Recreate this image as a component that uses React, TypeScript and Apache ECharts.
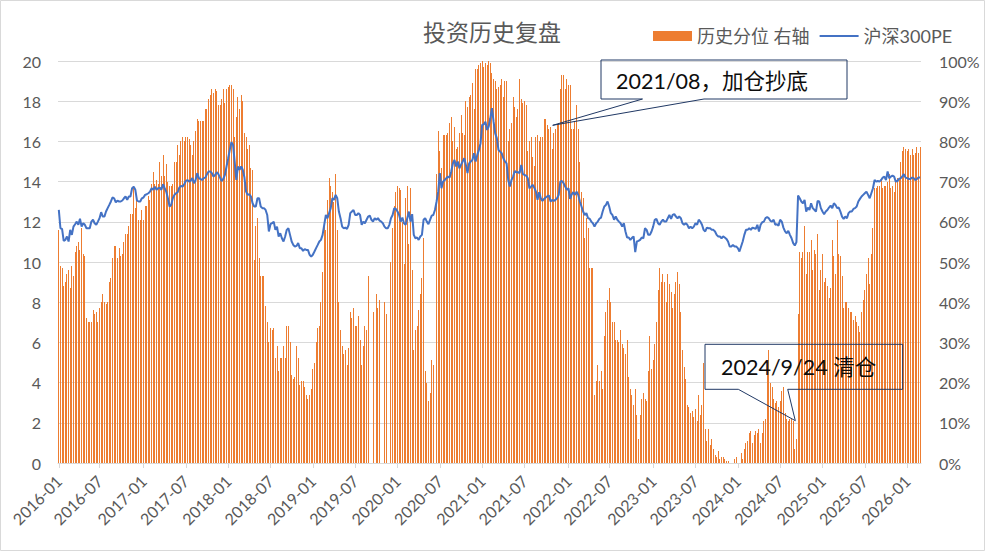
import React, { useEffect, useRef } from "react";
import * as echarts from "echarts";

// ---------- data (weekly, first week 2016-01-08) ----------
const START_DATE = "2016-01-08";
const TICK_LABELS = [
  "2016-01", "2016-07", "2017-01", "2017-07", "2018-01", "2018-07", "2019-01",
  "2019-07", "2020-01", "2020-07", "2021-01", "2021-07", "2022-01", "2022-07",
  "2023-01", "2023-07", "2024-01", "2024-07", "2025-01", "2025-07", "2026-01",
];

// 历史分位 (%), right axis
const BAR_2016_2017 = [
  58, 49, 48.5, 44, 45, 47, 48, 43.5, 49, 46.5,
  52.5, 54, 55, 53, 58.5, 52, 51.5, 36, 35, 35,
  35, 38, 37, 37.5, 35, 38.5, 40, 42, 40, 39.5,
  40, 45, 46, 51, 54, 54, 51, 53.5, 51.5, 52,
  55, 57, 57, 59, 62, 62, 69, 63.5, 66, 60.5,
  60.5, 63, 60.5, 64, 64, 66.5, 65.5, 69.5, 72.5, 69.5,
  70.5, 69.5, 75, 71.5, 76.5, 71.5, 74.5, 70, 69, 69,
  69.5, 75, 75, 79, 76.5, 80, 81, 80, 81, 81,
  80.5, 79, 76.5, 80, 82.5, 85.5, 85, 85, 85, 85,
  88, 88, 90.5, 91.5, 93, 92, 93, 92.5, 89, 89,
  90.5, 93, 89.5, 93, 93.5,
];
const BAR_2018_2019 = [
  94, 94, 93, 81, 86, 91, 88, 91.5, 90, 82,
  81, 78, 79, 73.5, 73, 50.5, 59, 61, 51, 46.5,
  46.5, 46.5, 39, 35, 30, 33.5, 33, 33.5, 26, 29,
  23, 26, 26, 29, 26, 34, 34, 30, 22, 21,
  21.5, 29, 26, 19.5, 20.5, 20.5, 19, 17, 16, 17,
  18.5, 23.5, 25, 30, 33.5, 34, 40, 47.5, 59, 58,
  65.5, 71, 69, 67.5, 65, 72, 58, 40,
];
const BAR_2019_2020 = [
  33, 29, 27, 28, 24.5, 28.5, 37.5, 36, 38.5, 34,
  34, 36.5, 30.5, 24.5, 29, 34, 33, 46.5, 0, 0,
  37.5, 0, 42, 38.5, 40.5, 0, 0, 40, 37, 0,
  0, 50, 58.5, 64, 67.5, 69, 68.5, 68, 60, 49.5,
  66, 69, 54.5, 68.5, 48, 28, 33, 34, 38, 42,
  46, 56, 23, 20, 15.5, 17.5, 25.5, 24.5, 0,
];
const BAR_2020_2021 = [
  72, 82.5, 77.5, 73.5, 81.5, 81.5, 81.5, 82, 84.5, 86,
  80, 83.5, 78, 78.5, 82, 86.5, 82, 81.5, 90, 88.5,
  91, 91.5, 94.5, 88, 98, 98, 99, 99.5, 100, 98.5,
  99.5, 99, 100, 99.5, 97, 95.5, 95, 93, 93.5, 94,
  95.5, 91, 95, 95, 80, 83, 84.5, 91, 88.5, 86,
  88, 95.5, 90.5, 89.5, 90, 89, 77.5, 80, 81, 76,
  74, 81, 81.5, 80, 81, 81, 85.5, 85.5, 84, 83,
  83.5, 78, 82, 83, 84, 84.5, 93, 96.5, 96.5, 93,
  95.5,
];
const BAR_2022A = [94, 94, 83, 83, 85, 89, 83, 75, 67.5, 66, 56, 61, 58.5, 48.5, 48.5, 48.5];
const BAR_2022_2023 = [
  17, 20.5, 24.5, 20.5, 23, 18.5, 31.5, 37.5, 40.5, 43.5,
  40, 35, 35, 30.5, 30.5, 30, 33, 29.5, 28.5, 27,
  30.5, 21.5, 18.5, 17, 14.5, 18.5, 12, 6, 12, 16,
  17.5, 16, 15.5, 23, 31.5, 23.5, 25.5, 29.5, 35, 43,
  48.5, 45, 47, 45, 40, 47, 44.5, 42.5, 38.5, 42,
  45, 47.5, 44.5, 37.5, 28, 24, 21, 14.5, 14, 12.5,
  13, 11.5, 13.5, 10.5, 17, 12, 14.5, 25, 8.5, 5.5,
  8.5, 4.5, 6, 3.5, 2, 1.5, 3, 1, 1.5, 1.5,
  1, 0.5, 0.5, 0, 0, 0, 1, 1.5, 0, 0,
  2.5, 1, 3.5, 5,
];
const BAR_2024_2026 = [
  5.5, 7.5, 8, 5, 7, 8, 7.5, 8.5, 5, 7.5,
  10.5, 11, 22, 28, 20, 19, 16, 15, 15.5, 14,
  15.5, 18, 19, 12.5, 11, 10.5, 11, 11, 10.5, 3.5,
  6, 37, 52.5, 51, 52.5, 59, 47, 52.5, 52.5, 55.5,
  48, 53, 52, 57, 43, 48, 52, 45, 46, 44,
  41, 43.5, 55.5, 51.5, 47, 60.5, 52, 51.5, 46.5, 38.5,
  40, 40, 38.5, 37.5, 37.5, 35.5, 36.5, 35, 34, 32.5,
  37.5, 40.5, 43, 47, 51, 44.5, 52, 58.5, 68.5, 68.5,
  69, 69, 70.5, 68.5, 69, 69, 70, 72, 68.5, 69,
  67.5, 70, 71, 70.5, 75, 77.5, 78.5, 78, 77.5, 78,
  76.5, 78, 76.5, 77, 78.5, 77, 78.5,
];

// 沪深300PE, left axis
const PE_2016_2017 = [
  12.59, 11.68, 11.65, 11.05, 11.1, 11.27, 11.02, 11.6, 11.35, 11.76,
  11.88, 12.01, 11.85, 12.15, 11.76, 11.93, 11.85, 11.68, 11.68, 11.68,
  12.01, 12.1, 11.93, 11.85, 12.01, 12.18, 12.48, 12.26, 12.26, 12.51,
  12.68, 12.84, 13.01, 13.21, 13.17, 12.97, 13.05, 13.01, 13.01, 13.06,
  13.17, 13.26, 13.09, 13.26, 13.26, 13.67, 13.74, 13.59, 13.06, 13.01,
  13.01, 13.17, 13.21, 13.34, 13.37, 13.42, 13.5, 13.67, 13.59, 13.75,
  13.59, 13.67, 13.7, 13.59, 13.87, 13.67, 13.5, 13.17, 12.76, 12.84,
  13.17, 13.34, 13.42, 13.47, 13.7, 13.79, 13.75, 13.87, 14.03, 14.08,
  14.0, 14.05, 14.17, 13.92, 14.08, 14.42, 14.17, 14.13, 14.08, 14.17,
  14.2, 14.37, 14.5, 14.5, 14.42, 14.25, 14.33, 14.47, 14.37, 14.2,
  14.03, 14.13, 14.33, 14.75, 15.16, 15.58,
];
const PE_2018_2019 = [
  15.96, 15.82, 15.0, 14.08, 14.75, 14.58, 14.75, 14.58, 14.2, 13.5,
  13.34, 13.37, 13.26, 12.92, 12.76, 12.76, 13.17, 13.17, 12.76, 12.68,
  12.68, 12.59, 12.34, 11.52, 11.88, 11.93, 12.01, 11.6, 11.76, 11.27,
  11.43, 11.18, 11.02, 11.27, 11.6, 11.68, 11.35, 11.02, 10.85, 10.77,
  10.8, 10.94, 10.69, 10.69, 10.55, 10.64, 10.6, 10.6, 10.36, 10.27,
  10.36, 10.52, 10.69, 10.85, 11.02, 11.1, 11.35, 11.85, 12.34, 12.18,
  12.43, 12.68, 13.17, 13.09, 13.34, 13.17, 12.51, 12.18, 11.76, 11.68,
  11.71, 11.65, 11.85, 12.43, 12.51, 12.59, 12.34, 12.34, 12.43, 12.34,
  11.85, 12.01, 11.93, 12.1, 12.26, 12.31, 12.1, 12.01, 12.18, 12.1,
  12.18, 12.06, 12.01, 11.93, 11.76, 11.68, 11.68, 11.85, 12.18, 12.34,
  12.68, 12.64, 12.51, 12.34, 12.01,
];
const PE_2020_2021 = [
  12.21, 11.93, 11.85, 12.18, 12.51, 12.01, 12.38, 11.35, 11.18, 11.22,
  11.1, 11.27, 11.35, 12.1, 12.18, 12.01, 11.88, 12.1, 12.31, 12.34,
  12.59, 13.01, 13.5, 14.42, 13.67, 14.0, 14.08, 14.17, 14.25, 14.2,
  14.5, 14.9, 15.08, 14.75, 15.0, 14.66, 14.83, 15.0, 15.16, 14.83,
  14.42, 14.91, 15.0, 15.08, 15.41, 15.0, 15.33, 15.58, 15.91, 16.82,
  16.85, 16.98, 16.57, 16.74, 17.15, 17.65, 16.98, 16.4, 16.16, 15.58,
  15.49, 15.41, 15.16, 15.0, 14.91, 14.08, 13.75, 14.08, 14.25, 14.53,
  14.47, 14.47, 14.42, 14.83, 14.37, 14.33, 14.3, 14.17, 13.67, 13.75,
  13.84, 13.7, 13.5, 13.09, 13.47, 13.17, 13.04, 13.14, 13.21, 13.26,
  13.31, 13.01, 13.09, 13.04, 13.09, 13.17, 13.34, 14.0, 14.03, 13.92,
  13.75, 13.59, 13.67, 13.14, 13.37, 13.47,
];
const PE_2022_2023 = [
  13.34, 13.5, 13.34, 13.01, 12.76, 12.51, 12.34, 12.43, 12.18, 12.15,
  12.01, 11.93, 11.76, 11.93, 12.01, 12.15, 12.21, 12.51, 12.76, 12.84,
  13.01, 12.76, 12.43, 12.34, 12.1, 12.26, 12.1, 12.01, 11.93, 11.76,
  11.93, 11.52, 11.22, 11.22, 11.1, 11.2, 11.27, 10.49, 11.02, 11.05,
  11.1, 11.22, 11.18, 11.68, 11.6, 11.35, 11.35, 11.52, 11.76, 12.1,
  12.15, 11.93, 11.85, 12.01, 12.1, 12.01, 12.01, 12.18, 12.34, 12.15,
  12.34, 12.38, 12.26, 12.18, 12.26, 12.18, 11.93, 11.85, 11.93, 11.85,
  11.68, 11.76, 11.68, 11.76, 11.93, 11.85, 12.1, 12.01, 11.85, 11.6,
  11.52, 11.71, 11.68, 11.68, 11.6, 11.6, 11.52, 11.35, 11.27, 11.27,
  11.18, 11.27, 11.22, 11.15, 11.02, 10.77, 10.77, 10.85, 10.77, 10.77,
  10.69, 10.52, 10.77, 11.02, 11.35, 11.6,
];
const PE_2024_2026 = [
  11.6, 11.68, 11.6, 11.71, 11.68, 11.65, 11.85, 11.52, 11.85, 11.98,
  12.01, 12.18, 12.23, 12.18, 12.05, 12.01, 12.1, 11.85, 11.88, 11.81,
  12.1, 12.01, 11.71, 11.52, 11.43, 11.55, 11.35, 11.18, 10.94, 10.82,
  10.99, 13.31, 13.17, 13.01, 12.92, 13.09, 12.51, 12.71, 12.59, 12.92,
  12.68, 12.6, 12.51, 13.04, 13.01, 12.68, 12.51, 12.38, 12.51, 12.59,
  12.71, 12.81, 12.68, 12.92, 12.84, 12.68, 12.71, 12.51, 12.26, 12.15,
  12.26, 12.18, 12.43, 12.51, 12.51, 12.64, 12.68, 12.76, 13.01, 13.14,
  13.26, 13.34, 13.42, 13.5, 13.34, 13.17, 13.42, 13.67, 14.08, 14.0,
  14.03, 14.0, 14.08, 14.2, 14.25, 14.08, 14.5, 14.17, 14.25, 14.3,
  14.25, 14.0, 14.03, 14.13, 14.17, 14.25, 14.37, 14.2, 14.17, 14.13,
  14.13, 14.2, 14.17, 14.08, 14.13, 14.2, 14.2,
];

const BAR_PCT = [
  ...BAR_2016_2017, ...BAR_2018_2019, ...BAR_2019_2020, ...BAR_2020_2021,
  ...BAR_2022A, ...BAR_2022_2023, ...BAR_2024_2026,
];
const PE = [...PE_2016_2017, ...PE_2018_2019, ...PE_2020_2021, ...PE_2022_2023, ...PE_2024_2026];

const FONT = 'Lato, "Noto Sans CJK SC", sans-serif';
const GREY = "#595959";
const NAVY = "#203864";
const ORANGE = "#ED7D31";
const BLUE = "#4472C4";

function pad(n: number) {
  return n < 10 ? "0" + n : String(n);
}

const CSS = `
#pe-chart path[fill="${ORANGE}"], #pe-chart path[fill="${ORANGE.toLowerCase()}"], #pe-chart path[fill="rgb(237,125,49)"] {
  shape-rendering: crispEdges;
}
`;

export default function App() {
  const ref = useRef<HTMLDivElement>(null);

  useEffect(() => {
    if (!ref.current) return;
    const chart = echarts.init(ref.current, undefined, { renderer: "svg" });

    const n = Math.max(BAR_PCT.length, PE.length);
    const t0 = Date.parse(START_DATE + "T00:00:00Z");
    const categories: string[] = [];
    for (let i = 0; i < n; i++) {
      const d = new Date(t0 + i * 7 * 86400000);
      categories.push(`${d.getUTCFullYear()}-${pad(d.getUTCMonth() + 1)}-${pad(d.getUTCDate())}`);
    }
    const tickSet = new Set<number>();
    TICK_LABELS.forEach((lab) => {
      const idx = categories.findIndex((c) => c.startsWith(lab));
      if (idx >= 0) tickSet.add(idx);
    });
    const showTick = (i: number) => tickSet.has(i);

    chart.setOption({
      animation: false,
      textStyle: { fontFamily: FONT },
      title: {
        text: "投资历史复盘",
        left: 418,
        top: 15,
        textStyle: { fontSize: 23, fontWeight: "normal", color: GREY, fontFamily: FONT },
      },
      legend: {
        left: 648,
        top: 22,
        itemWidth: 39,
        itemHeight: 10,
        itemGap: 9,
        textStyle: { fontSize: 18, color: GREY, fontFamily: FONT },
        data: [
          { name: "历史分位 右轴", icon: "rect" },
          { name: "沪深300PE", itemStyle: { color: "rgba(0,0,0,0)", borderWidth: 0, opacity: 0 } },
        ],
      },
      grid: { left: 58, right: 64, top: 61, bottom: 88 },
      xAxis: {
        type: "category",
        data: categories,
        boundaryGap: true,
        axisLine: { lineStyle: { color: "#d9d9d9", width: 1 } },
        axisTick: {
          show: true,
          alignWithLabel: true,
          interval: showTick,
          length: 5,
          lineStyle: { color: "#d9d9d9" },
        },
        axisLabel: {
          interval: showTick,
          rotate: 45,
          margin: 15,
          fontSize: 16,
          color: GREY,
          fontFamily: FONT,
          formatter: (v: string) => v.slice(0, 7),
        },
        splitLine: { show: false },
      },
      yAxis: [
        {
          type: "value",
          min: 0,
          max: 20,
          interval: 2,
          axisLine: { show: false },
          axisTick: { show: false },
          axisLabel: { fontSize: 16, color: GREY, margin: 17, fontFamily: FONT },
          splitLine: { lineStyle: { color: "#d9d9d9", width: 1 } },
        },
        {
          type: "value",
          min: 0,
          max: 100,
          interval: 10,
          position: "right",
          axisLine: { show: false },
          axisTick: { show: false },
          axisLabel: { fontSize: 16, color: GREY, margin: 18, fontFamily: FONT, formatter: "{value}%" },
          splitLine: { show: false },
        },
      ],
      series: [
        {
          name: "历史分位 右轴",
          type: "bar",
          yAxisIndex: 1,
          data: BAR_PCT,
          barWidth: 1,
          itemStyle: { color: ORANGE },
          z: 2,
        },
        {
          name: "沪深300PE",
          type: "line",
          yAxisIndex: 0,
          data: PE,
          symbol: "none",
          showSymbol: false,
          lineStyle: { color: BLUE, width: 2 },
          itemStyle: { color: BLUE },
          z: 3,
        },
      ],
      graphic: [
        {
          type: "rect",
          z: 100,
          shape: { x: 0.5, y: 0.5, width: 984, height: 550 },
          style: { fill: "none", stroke: "#d9d9d9", lineWidth: 1 },
        },
        {
          type: "polygon",
          z: 100,
          shape: {
            points: [
              [601, 60], [847, 60], [847, 99], [704, 99], [552.7, 125.3], [642.5, 99], [601, 99],
            ],
          },
          style: { fill: "none", stroke: NAVY, lineWidth: 1 },
        },
        {
          type: "text",
          z: 101,
          x: 616,
          y: 80.5,
          style: {
            text: "2021/08，加仓抄底",
            fontSize: 21.5,
            fontFamily: FONT,
            fill: "#0d0d0d",
            verticalAlign: "middle",
            align: "left",
          },
        },
        {
          type: "polygon",
          z: 100,
          shape: {
            points: [
              [705, 344.3], [902.7, 344.3], [902.7, 389.3], [787.7, 389.3], [795.3, 420.7], [738.3, 389.3], [705, 389.3],
            ],
          },
          style: { fill: "none", stroke: NAVY, lineWidth: 1 },
        },
        {
          type: "text",
          z: 101,
          x: 721,
          y: 367,
          style: {
            text: "2024/9/24 清仓",
            fontSize: 21.5,
            fontFamily: FONT,
            fill: "#0d0d0d",
            verticalAlign: "middle",
            align: "left",
          },
        },
      ],
    });

    return () => chart.dispose();
  }, []);

  return (
    <>
      <style>{CSS}</style>
      <div
        id="pe-chart"
        ref={ref}
        style={{ position: "absolute", left: 0, top: 0, width: 985, height: 551, background: "#fff" }}
      />
    </>
  );
}
